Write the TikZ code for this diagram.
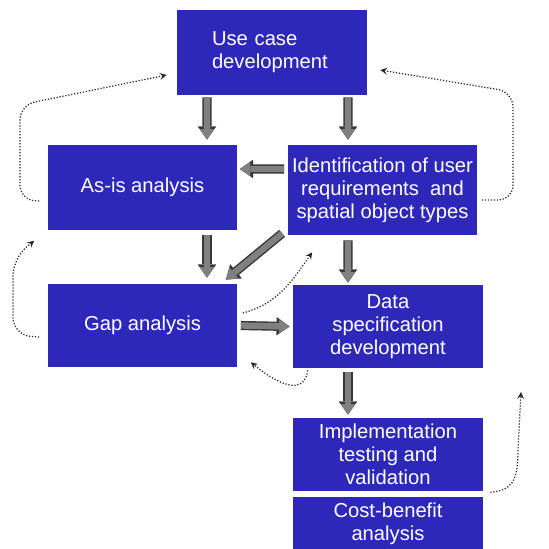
\documentclass[tikz,border=0pt]{standalone}
\usepackage{fontspec}
\setmainfont{Liberation Sans}
\usetikzlibrary{positioning,arrows.meta}
\tikzset{>=stealth}
\definecolor{boxblue}{RGB}{46,40,186}
\definecolor{arrowgray}{RGB}{128,128,128}
\definecolor{arrowedge}{RGB}{55,55,55}
\tikzset{
  stage/.style={fill=boxblue, text=white, align=center, minimum width=3.8cm,
    inner sep=1pt, font=\fontsize{11.5}{13}\selectfont},
  blockarrow/.style={draw=arrowgray, line width=3.6pt,
    -{Triangle[width=8pt,length=6pt,line width=0pt]},
    preaction={draw=arrowedge, line width=5.2pt,
      -{Triangle[width=10.5pt,length=7.5pt,line width=0pt]}}},
  feedback/.style={densely dotted, draw=black!85, line width=0.7pt, ->}
}

\begin{document}
\begin{tikzpicture}[x=0.02cm, y=0.02cm]
    \useasboundingbox (0,0) rectangle (549,-549);
    % set up the nodes
    \node[stage, minimum height=1.7cm, text width=2.4cm, align=left] (usecase) at (272,-52.5) {Use case\\development};
    \node[stage, minimum height=1.72cm] (asis) at (142.5,-187.5) {As-is analysis};
    \node[stage, minimum height=1.8cm] (ident) at (382.5,-190) {Identification of user\\requirements\ \ and\\spatial object types};
    \node[stage, minimum height=1.66cm] (gap) at (142.5,-325.5) {Gap analysis};
    \node[stage, minimum height=1.66cm] (dataspec) at (388,-326.5) {Data\\specification\\development};
    \node[stage, minimum height=1.46cm] (impl) at (388,-454.5) {Implementation\\testing and\\validation};
    \node[stage, minimum height=1.08cm, below=0.1cm of impl] (cost) {Cost-benefit\\analysis};
    \coordinate (reentry) at (521,-392);
    % draw the block arrows between the stages
    \draw[blockarrow] ([xshift=-1.3cm,yshift=-0.04cm]usecase.south) -- ([xshift=1.29cm,yshift=0.09cm]asis.north);
    \draw[blockarrow] ([xshift=1.52cm,yshift=-0.04cm]usecase.south) -- ([xshift=-0.69cm,yshift=0.1cm]ident.north);
    \draw[blockarrow] ([xshift=-0.06cm,yshift=0.42cm]ident.west) -- ([xshift=0.04cm,yshift=0.37cm]asis.east);
    \draw[blockarrow] ([xshift=1.29cm,yshift=-0.09cm]asis.south) -- ([xshift=1.29cm,yshift=0.12cm]gap.north);
    \draw[blockarrow] ([shift={(-0.1cm,0.04cm)}]ident.south west) -- ([shift={(-0.24cm,0.08cm)}]gap.north east);
    \draw[blockarrow] ([xshift=-0.69cm,yshift=-0.1cm]ident.south) -- ([xshift=-0.8cm,yshift=0.04cm]dataspec.north);
    \draw[blockarrow] ([xshift=0.06cm]gap.east) -- ([xshift=-0.06cm]dataspec.west);
    \draw[blockarrow] ([xshift=-0.8cm,yshift=-0.08cm]dataspec.south) -- ([xshift=-0.8cm,yshift=0.06cm]impl.north);
    % dotted feedback loops
    \draw[feedback, rounded corners=0.3cm] ([shift={(-0.16cm,-0.27cm)}]asis.west) -- (20,-200) -- (20,-105) -- ([shift={(-0.2cm,-0.45cm)}]usecase.west);
    \draw[feedback, rounded corners=0.3cm] ([shift={(0.08cm,-0.2cm)}]ident.east) -- (513,-200) -- (513,-92) -- ([shift={(0.26cm,-0.35cm)}]usecase.east);
    \draw[feedback, rounded corners=0.35cm] ([shift={(-0.16cm,-0.23cm)}]gap.west) -- (13,-335) -- (13,-258) -- ([shift={(-0.26cm,-0.2cm)}]asis.south west);
    \draw[feedback] ([shift={(0.1cm,0.25cm)}]gap.east) to[out=15,in=235] ([shift={(0.5cm,-0.34cm)}]ident.south west);
    \draw[feedback] ([shift={(0.3cm,-0.04cm)}]dataspec.south west) .. controls (305,-392) and (285,-390) .. ([shift={(0.26cm,0.1cm)}]gap.south east);
    \draw[feedback] ([shift={(0.14cm,-0.02cm)}]impl.south east) .. controls (512,-490) and (518,-482) .. (518,-450) -- (reentry);
\end{tikzpicture}
\end{document}
